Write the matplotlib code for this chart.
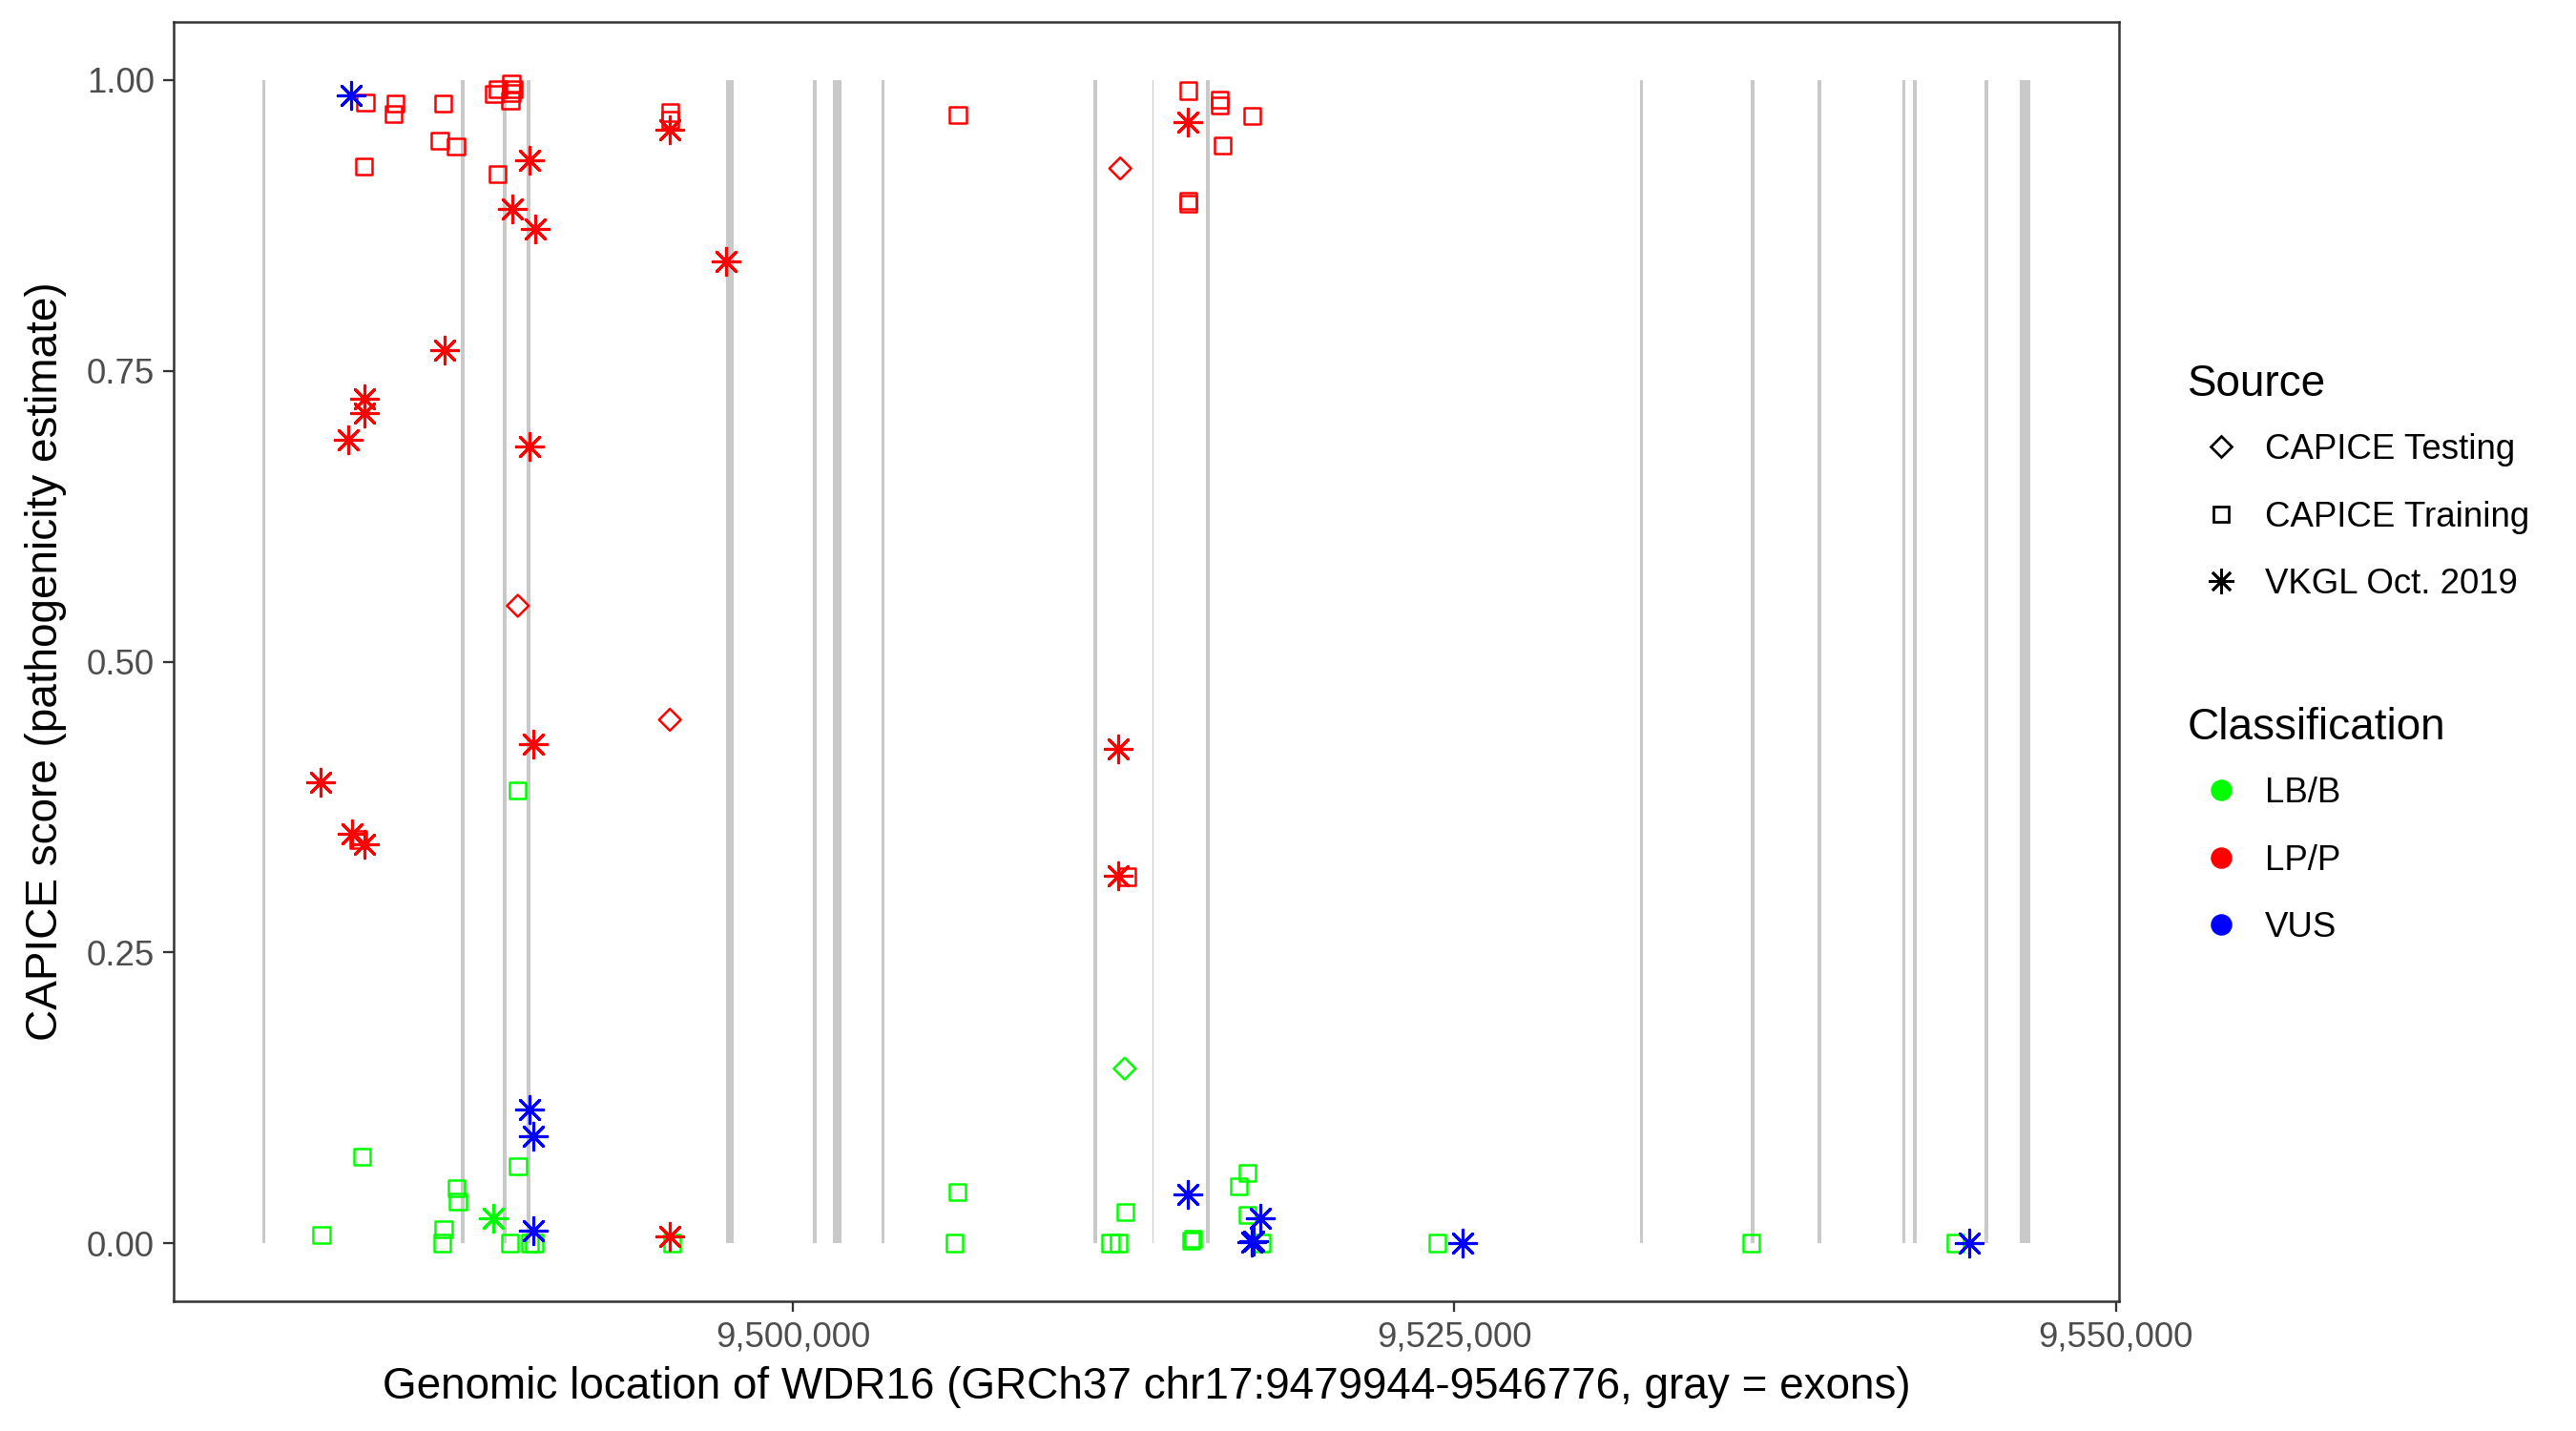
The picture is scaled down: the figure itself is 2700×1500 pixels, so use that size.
import matplotlib
matplotlib.use("Agg")
import matplotlib.pyplot as plt
from matplotlib.lines import Line2D
from matplotlib.ticker import FuncFormatter

plt.rcParams['font.family'] = ['Liberation Sans', 'DejaVu Sans']

# exons of WDR16 (start, end), GRCh37 chr17
exon_start = [9479944, 9487460, 9489050, 9489950, 9497480, 9500765, 9501520, 9503340,
              9511360, 9513595, 9515610, 9532005, 9536210, 9538735, 9541930, 9542345,
              9545050, 9546370]
exon_end = [9480075, 9487590, 9489175, 9490075, 9497770, 9500895, 9501840, 9503470,
            9511490, 9513640, 9515750, 9532135, 9536335, 9538865, 9542050, 9542465,
            9545175, 9546776]

# variants: position, CAPICE score, source, classification
pos = [
    # CAPICE Training, LP/P
    9483850, 9484978, 9484913, 9486795, 9486661, 9487274, 9483785, 9488857, 9488716,
    9488860, 9489365, 9489365, 9489437, 9489329, 9495357, 9495357, 9483576, 9506237,
    9514950, 9514950, 9514950, 9516125, 9516125, 9517351, 9516233, 9512643,
    # VKGL, LP/P
    9490047, 9489419, 9490256, 9495357, 9497466, 9486842, 9483814, 9483814, 9483208,
    9490047, 9490209, 9482159, 9483334, 9483817, 9495360, 9514914, 9512308, 9512304,
    # CAPICE Testing, LP/P and LB/B
    9489610, 9495357, 9512376, 9512542,
    # VKGL, VUS
    9483302, 9490047, 9490194, 9490194, 9514914, 9517653, 9517412, 9517351, 9525300,
    9544470,
    # VKGL, LB/B
    9488680,
    # CAPICE Training, LB/B
    9489610, 9483730, 9489618, 9487285, 9487346, 9486806, 9482191, 9486745, 9489304,
    9490075, 9490231, 9495447, 9506208, 9506125, 9512581, 9512005, 9512304, 9515069,
    9515130, 9517174, 9516871, 9517174, 9517711, 9524357, 9536227, 9543942,
]
score = [
    0.981, 0.980, 0.971, 0.980, 0.948, 0.943, 0.926, 0.919, 0.988,
    0.992, 0.989, 0.997, 0.992, 0.982, 0.972, 0.966, 0.347, 0.970,
    0.991, 0.896, 0.894, 0.983, 0.978, 0.969, 0.944, 0.315,
    0.931, 0.889, 0.872, 0.957, 0.844, 0.768, 0.726, 0.714, 0.691,
    0.685, 0.429, 0.396, 0.352, 0.343, 0.006, 0.964, 0.425, 0.316,
    0.548, 0.450, 0.924, 0.150,
    0.987, 0.115, 0.092, 0.011, 0.042, 0.021, 0.002, 0.001, 0.0,
    0.0,
    0.021,
    0.389, 0.074, 0.066, 0.047, 0.036, 0.012, 0.007, 0.0, 0.0,
    0.0, 0.0, 0.0, 0.044, 0.0, 0.027, 0.0, 0.0, 0.002,
    0.004, 0.060, 0.049, 0.024, 0.0, 0.0, 0.0, 0.0,
]
source = (['CAPICE Training'] * 26 + ['VKGL Oct. 2019'] * 18 + ['CAPICE Testing'] * 4
          + ['VKGL Oct. 2019'] * 11 + ['CAPICE Training'] * 26)
classif = (['LP/P'] * 26 + ['LP/P'] * 18 + ['LP/P'] * 3 + ['LB/B']
           + ['VUS'] * 10 + ['LB/B'] + ['LB/B'] * 26)

source_names = ['CAPICE Testing', 'CAPICE Training', 'VKGL Oct. 2019']
class_names = ['LB/B', 'LP/P', 'VUS']
class_colors = {'LB/B': '#00FF00', 'LP/P': '#FF0000', 'VUS': '#0000FF'}
source_marker = {'CAPICE Testing': 'D', 'CAPICE Training': 's', 'VKGL Oct. 2019': (8, 2, 0)}
source_size = {'CAPICE Testing': 15, 'CAPICE Training': 17, 'VKGL Oct. 2019': 46}
legend_size = {'CAPICE Testing': 3.9, 'CAPICE Training': 4.0, 'VKGL Oct. 2019': 6.4}

fig = plt.figure(figsize=(9, 5), dpi=300)
ax = fig.add_axes([182 / 2700, 1 - 1364 / 1500, (2221 - 182) / 2700, (1364 - 23) / 1500])

# exons as gray bars from 0 to 1
ax.bar(exon_start, [1] * len(exon_start),
       width=[e - s for s, e in zip(exon_start, exon_end)],
       bottom=0, align='edge', color='#c9c9c9', linewidth=0, zorder=1)

for s in source_names:
    for c in class_names:
        xs = [p for p, a, b in zip(pos, source, classif) if a == s and b == c]
        ys = [v for v, a, b in zip(score, source, classif) if a == s and b == c]
        if not xs:
            continue
        star = s == 'VKGL Oct. 2019'
        ax.scatter(xs, ys, marker=source_marker[s], s=source_size[s],
                   facecolors=class_colors[c] if star else 'none',
                   edgecolors=class_colors[c], linewidths=0.75 if star else 0.6,
                   zorder=3)

lo, hi = min(exon_start), max(exon_end)
pad = (hi - lo) * 0.05
ax.set_xlim(lo - pad, hi + pad)
ax.set_ylim(-0.05, 1.05)
ax.set_xticks([9500000, 9525000, 9550000])
ax.xaxis.set_major_formatter(FuncFormatter(lambda v, p: f"{int(v):,}"))
ax.set_yticks([0, 0.25, 0.5, 0.75, 1.0])
ax.set_yticklabels(['0.00', '0.25', '0.50', '0.75', '1.00'])

for sp in ax.spines.values():
    sp.set_color('#333333')
    sp.set_linewidth(0.6)
ax.tick_params(length=2.6, width=0.55, color='#333333', labelsize=8.8,
               labelcolor='#4D4D4D', pad=2.2)

ax.set_xlabel('Genomic location of WDR16 (GRCh37 chr17:9479944-9546776, gray = exons)',
              fontsize=11, labelpad=3)
ax.set_ylabel('CAPICE score (pathogenicity estimate)', fontsize=11, labelpad=5)

# legends
src_handles = [Line2D([], [], linestyle='none', marker=source_marker[s],
                      markersize=legend_size[s], markerfacecolor='none',
                      markeredgecolor='black', markeredgewidth=0.65)
               for s in source_names]
cls_handles = [Line2D([], [], linestyle='none', marker='o', markersize=4.4,
                      markerfacecolor=class_colors[c], markeredgecolor=class_colors[c])
               for c in class_names]

leg1 = fig.legend(src_handles, source_names, title='Source', loc='upper left',
                  bbox_to_anchor=(2293 / 2700, 1 - 381 / 1500), frameon=False,
                  fontsize=8.8, title_fontsize=11, borderpad=0, borderaxespad=0,
                  handlelength=1.9, handletextpad=0.3, labelspacing=0.97)
leg1._legend_box.align = 'left'
leg1._legend_box.sep = 7.0
leg2 = fig.legend(cls_handles, class_names, title='Classification', loc='upper left',
                  bbox_to_anchor=(2293 / 2700, 1 - 741 / 1500), frameon=False,
                  fontsize=8.8, title_fontsize=11, borderpad=0, borderaxespad=0,
                  handlelength=1.9, handletextpad=0.3, labelspacing=0.97)
leg2._legend_box.align = 'left'
leg2._legend_box.sep = 7.0

fig.savefig('out.png', dpi=300)
